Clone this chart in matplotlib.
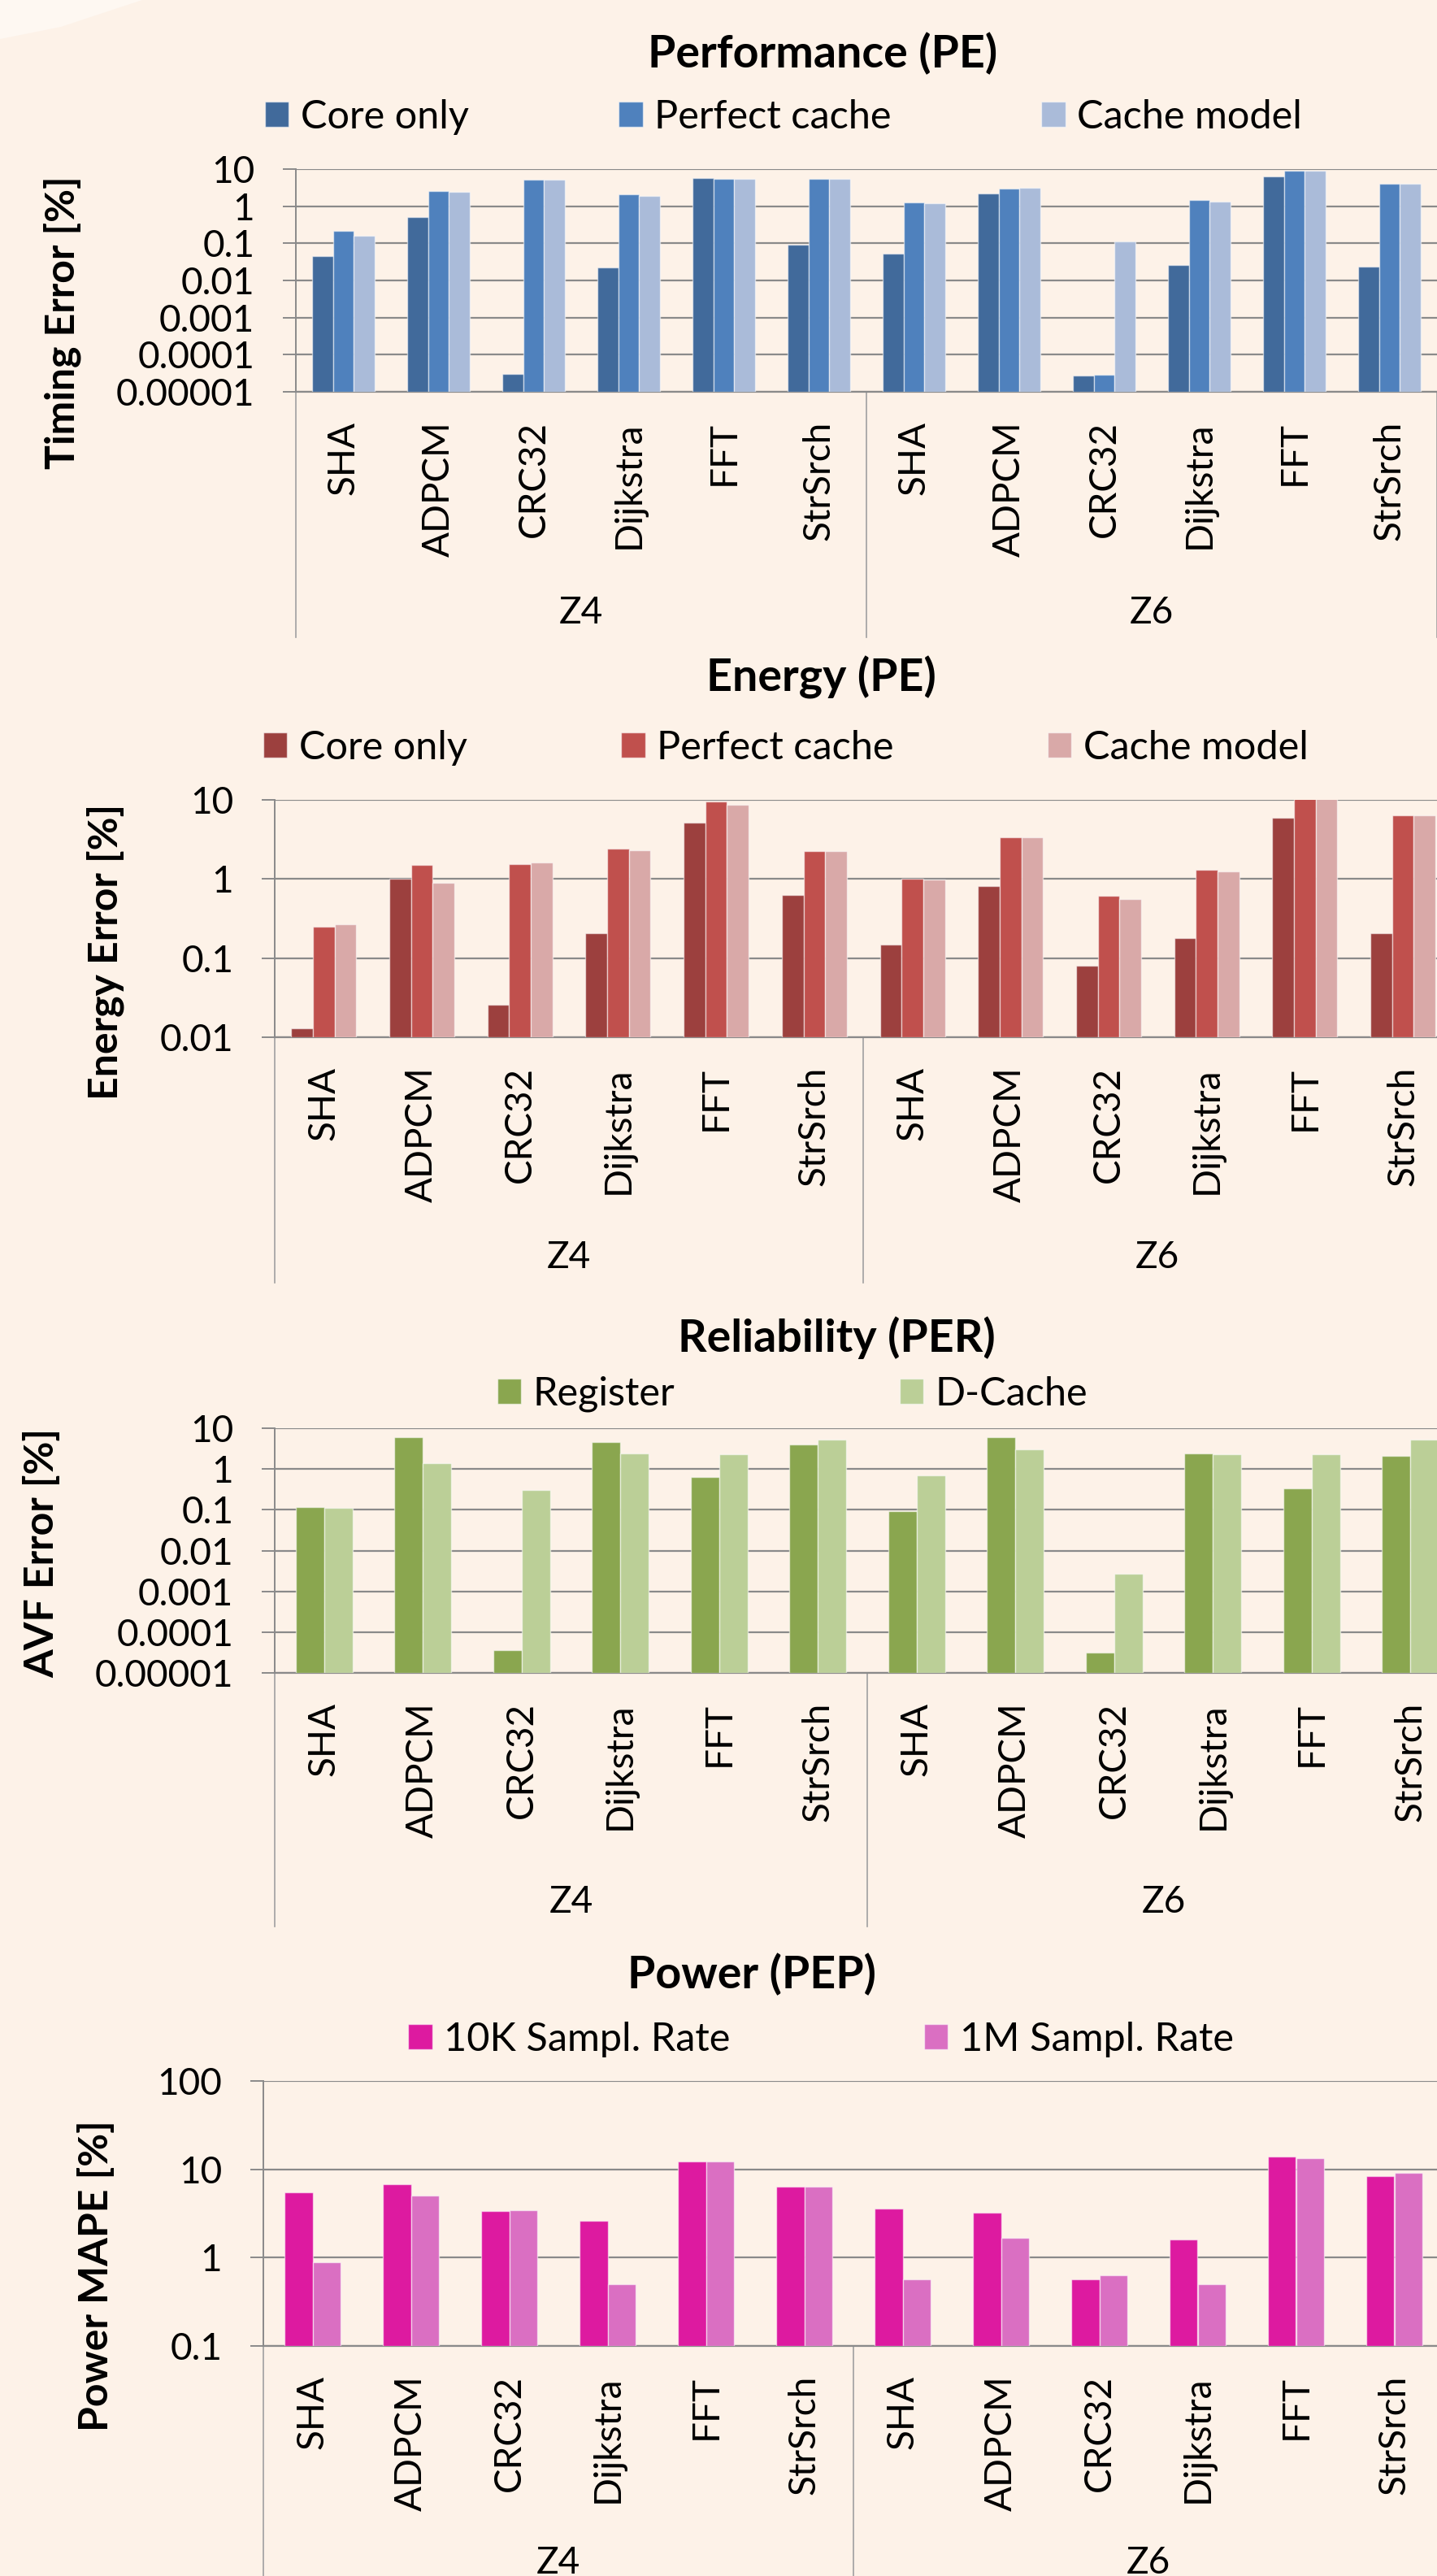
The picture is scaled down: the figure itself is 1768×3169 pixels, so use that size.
import matplotlib
matplotlib.use("Agg")
import matplotlib.pyplot as plt
import matplotlib.transforms as mtransforms
from matplotlib.ticker import FixedLocator, FuncFormatter, NullLocator
import numpy as np

plt.rcParams['font.family'] = ['Lato', 'DejaVu Sans']

# figure size in pixels (dpi 100)
W, H = 1768, 3169
bg = '#FDF2E8'
gridc = '#8A8A8A'

benchmarks = ['SHA', 'ADPCM', 'CRC32', 'Dijkstra', 'FFT', 'StrSrch']
groups = ['Z4', 'Z6']
categories = benchmarks + benchmarks

# Performance (PE) - timing error [%]
timing_core = [0.045, 0.51, 3.0e-5, 0.0225, 5.8, 0.09,
               0.052, 2.25, 2.7e-5, 0.0257, 6.3, 0.023]
timing_perfect = [0.216, 2.6, 5.1, 2.14, 5.5, 5.5,
                  1.28, 2.98, 2.9e-5, 1.45, 9.2, 4.1]
timing_model = [0.159, 2.43, 5.3, 1.93, 5.5, 5.5,
                1.22, 3.1, 0.111, 1.35, 9.2, 4.1]

# Energy (PE) - energy error [%]
energy_core = [0.013, 1.0, 0.026, 0.206, 5.15, 0.625,
               0.147, 0.815, 0.081, 0.18, 6.0, 0.206]
energy_perfect = [0.25, 1.5, 1.54, 2.41, 9.6, 2.24,
                  1.0, 3.34, 0.61, 1.32, 10.5, 6.4]
energy_model = [0.27, 0.9, 1.6, 2.3, 8.65, 2.24,
                0.98, 3.4, 0.555, 1.24, 10.5, 6.4]

# Reliability (PER) - AVF error [%]
avf_register = [0.118, 6.1, 3.6e-5, 4.5, 0.634, 4.0,
                0.093, 6.0, 3.1e-5, 2.4, 0.33, 2.09]
avf_dcache = [0.11, 1.37, 0.307, 2.46, 2.35, 5.3,
              0.71, 3.1, 0.0027, 2.3, 2.35, 5.3]

# Power (PEP) - power MAPE [%]
power_10k = [5.43, 6.76, 3.36, 2.59, 12.2, 6.41,
             3.62, 3.23, 0.572, 1.59, 13.8, 8.3]
power_1m = [0.88, 5.05, 3.47, 0.496, 12.3, 6.3,
            0.568, 1.67, 0.637, 0.496, 13.3, 9.2]

fig = plt.figure(figsize=(W / 100, H / 100), dpi=100, facecolor=bg)

# light sheen in the top-left corner
fig.patches.append(plt.Polygon([(0, 1), (175 / W, 1), (75 / W, 1 - 33 / H), (0, 1 - 48 / H)],
                               closed=True, transform=fig.transFigure,
                               facecolor='#FEF8F2', edgecolor='none', zorder=0))


def px_rect(left, right, top, bottom):
    return [left / W, 1 - bottom / H, (right - left) / W, (bottom - top) / H]


def tick_fmt(v, pos):
    k = int(round(np.log10(v)))
    return '{:.{}f}'.format(10.0 ** k, max(0, -k))


def panel(left, right, top, bottom, series, names, colors, width, ylim,
          title, title_xy, ylabel, ylabel_xy, legend_xy, colspace, sep_bottom, group_y):
    ax = fig.add_axes(px_rect(left, right, top, bottom))
    ax.set_facecolor('none')
    x = np.arange(len(categories))
    n = len(series)
    handles = []
    for i, (vals, name, c) in enumerate(zip(series, names, colors)):
        off = (i - (n - 1) / 2) * width
        vals = np.array(vals)
        b = ax.bar(x + off, vals - ylim[0], bottom=ylim[0], width=width, color=c,
                   edgecolor=(1, 1, 1, 0.55), linewidth=1.0, label=name, zorder=3)
        handles.append(b)
    ax.set_yscale('log')
    ax.set_ylim(*ylim)
    ax.set_xlim(-0.5, len(categories) - 0.5)
    k0 = int(round(np.log10(ylim[0])))
    k1 = int(round(np.log10(ylim[1])))
    decades = [10.0 ** k for k in range(k0, k1 + 1)]
    ax.yaxis.set_major_locator(FixedLocator(decades))
    ax.yaxis.set_minor_locator(NullLocator())
    ax.yaxis.set_major_formatter(FuncFormatter(tick_fmt))
    ax.grid(axis='y', color=gridc, linewidth=1.6, zorder=0)
    ax.set_axisbelow(True)
    for s in ['top', 'right']:
        ax.spines[s].set_visible(False)
    ax.spines['left'].set_color(gridc)
    ax.spines['left'].set_linewidth(1.4)
    ax.spines['bottom'].set_color(gridc)
    ax.spines['bottom'].set_linewidth(1.6)
    ax.tick_params(axis='y', length=11.5, width=1.4, color=gridc, pad=25, labelsize=33)
    ax.set_xticks(x)
    ax.set_xticklabels(categories, rotation=90, fontsize=33)
    ax.tick_params(axis='x', length=0, pad=26)

    trans = mtransforms.blended_transform_factory(ax.transData, ax.transAxes)
    h = bottom - top
    ysep = (bottom - sep_bottom) / h
    for xs in [-0.5, 5.5, 11.5]:
        ax.plot([xs, xs], [0, ysep], transform=trans, color='#A0A0A0',
                linewidth=1.2, clip_on=False)
    yg = (bottom - group_y) / h
    for k, g in enumerate(groups):
        ax.text(2.5 + 6 * k, yg, g, transform=trans, ha='center', va='center', fontsize=33)

    fig.text(title_xy[0] / W, 1 - title_xy[1] / H, title, ha='center', va='center',
             fontsize=40, fontweight='bold')
    fig.text(ylabel_xy[0] / W, 1 - ylabel_xy[1] / H, ylabel, ha='center', va='center',
             rotation=90, fontsize=36, fontweight='bold')
    fig.legend(handles=handles, loc='center', ncol=n, frameon=False,
               bbox_to_anchor=(legend_xy[0] / W, 1 - legend_xy[1] / H),
               fontsize=35, handlelength=0.6, handleheight=0.6,
               handletextpad=0.3, columnspacing=colspace)
    return ax


panel(364, 1768, 208, 482,
      [timing_core, timing_perfect, timing_model],
      ['Core only', 'Perfect cache', 'Cache model'],
      ['#416A9B', '#4F81BD', '#AABBD9'], 0.219, (1e-5, 10),
      'Performance (PE)', (1012, 66), 'Timing Error [%]', (77, 397),
      (964, 144), 3.8, 784, 754)

panel(338, 338 + 12 * 120.7, 984, 1276,
      [energy_core, energy_perfect, energy_model],
      ['Core only', 'Perfect cache', 'Cache model'],
      ['#9C403E', '#C0504D', '#D9A9A8'], 0.221, (0.01, 10),
      'Energy (PE)', (1010, 833), 'Energy Error [%]', (130, 1171),
      (967, 920), 3.9, 1578, 1547)

panel(338, 338 + 12 * 121.5, 1757, 2058,
      [avf_register, avf_dcache],
      ['Register', 'D-Cache'],
      ['#8AA64F', '#BBCF97'], 0.288, (1e-5, 10),
      'Reliability (PER)', (1029, 1646), 'AVF Error [%]', (51, 1911),
      (975, 1715), 5.7, 2370, 2340)

panel(324, 324 + 12 * 121, 2560, 2886,
      [power_10k, power_1m],
      ['10K Sampl. Rate', '1M Sampl. Rate'],
      ['#DD1AA0', '#DA6FC2'], 0.289, (0.1, 100),
      'Power (PEP)', (925, 2429), 'Power MAPE [%]', (118, 2800),
      (1010, 2509), 4.9, 3200, 3153)

fig.savefig('out.png', dpi=100, facecolor=bg)
